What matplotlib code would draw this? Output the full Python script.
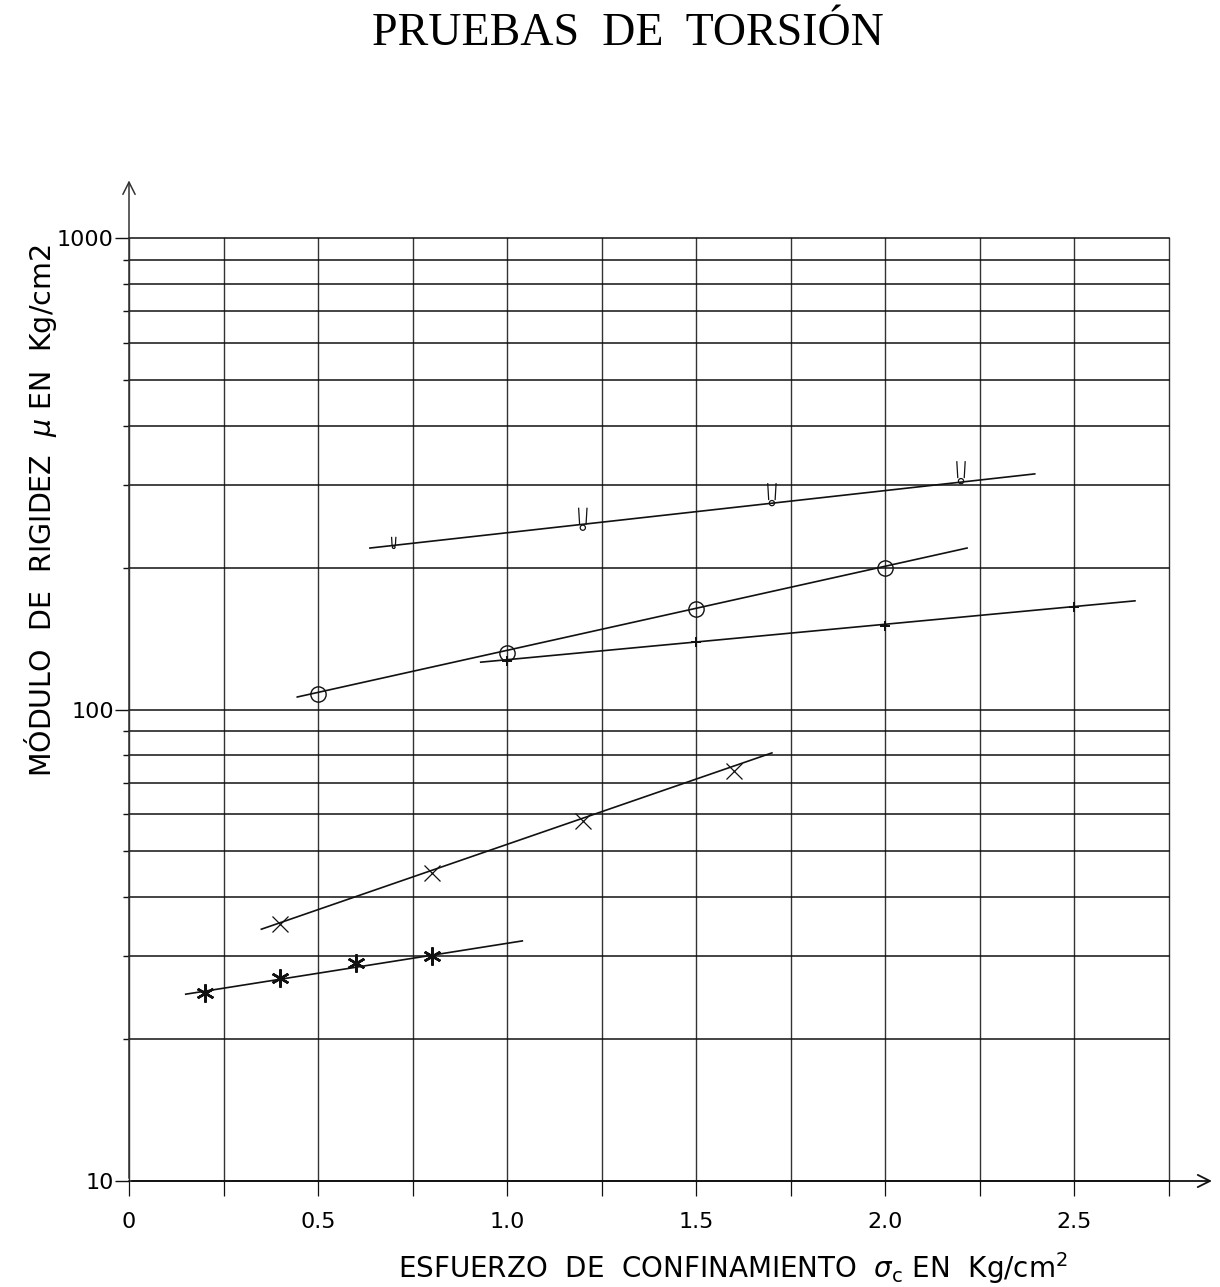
import numpy as np
import matplotlib
matplotlib.use("Agg")
import matplotlib.pyplot as plt
from matplotlib.path import Path
from matplotlib.ticker import MultipleLocator, LogLocator, NullFormatter

# confining stress (kg/cm2) vs shear modulus (kg/cm2)
star_x = [0.2, 0.4, 0.6, 0.8]
star_y = [25.0, 27.0, 29.0, 30.0]
star_fit_x = [0.15, 1.04]
star_fit_y = [24.9, 32.3]

cross_x = [0.4, 0.8, 1.2, 1.6]
cross_y = [35.0, 45.0, 58.0, 74.0]
cross_fit_x = [0.35, 1.70]
cross_fit_y = [34.2, 80.9]

circ_x = [0.5, 1.0, 1.5, 2.0]
circ_y = [108.0, 132.0, 163.0, 200.0]
circ_fit_x = [0.445, 2.216]
circ_fit_y = [106.3, 220.0]

plus_x = [1.0, 1.5, 2.0, 2.5]
plus_y = [127.0, 139.0, 150.0, 165.0]
plus_fit_x = [0.93, 2.66]
plus_fit_y = [126.0, 170.0]

fork_x = [0.7, 1.2, 1.7, 2.2]
fork_y = [221.0, 243.0, 274.0, 305.0]
fork_fit_x = [0.637, 2.395]
fork_fit_y = [220.0, 316.0]

x_ticks = [0, 0.5, 1.0, 1.5, 2.0, 2.5]
x_tick_labels = ["0", "0.5", "1.0", "1.5", "2.0", "2.5"]
y_ticks = [10, 100, 1000]
y_tick_labels = ["10", "100", "1000"]

sans = ["DejaVu Sans"]
ink = "#111111"

fig = plt.figure(figsize=(12.2, 12.87), dpi=100)
ax = fig.add_axes([129 / 1220, 106 / 1287, 1040 / 1220, 943 / 1287])
ax.set_yscale("log")
ax.set_xlim(0, 2.75)
ax.set_ylim(10, 1000)

for s in ax.spines.values():
    s.set_visible(False)

ax.xaxis.set_major_locator(MultipleLocator(0.25))
ax.xaxis.set_major_formatter(NullFormatter())
ax.yaxis.set_minor_locator(LogLocator(base=10, subs=np.arange(2, 10)))
ax.yaxis.set_minor_formatter(NullFormatter())
ax.set_yticks(y_ticks)
ax.set_yticklabels(y_tick_labels, family=sans, fontsize=16)

ax.tick_params(axis="x", which="both", direction="out", length=11, width=0.9, color=ink, labelbottom=False)
ax.tick_params(axis="y", which="major", direction="out", length=10, width=1.0, color=ink, pad=1)
ax.tick_params(axis="y", which="minor", direction="out", length=4.5, width=1.0, color=ink)

ax.grid(True, which="major", axis="x", color="#333333", lw=1.0, clip_on=False)
ax.grid(True, which="both", axis="y", color=ink, lw=1.1, clip_on=False)

for xv, lab in zip(x_ticks, x_tick_labels):
    ax.text(xv, -0.043, lab, transform=ax.get_xaxis_transform(), ha="center", va="center",
            family=sans, fontsize=16)

# axes drawn as arrows
ax.annotate("", xy=(0, 1.064), xytext=(0, 0), xycoords="axes fraction",
            arrowprops=dict(arrowstyle="->", lw=1.1, color="#333333", mutation_scale=22),
            annotation_clip=False)
ax.annotate("", xy=(1.044, 0), xytext=(0, 0), xycoords="axes fraction",
            arrowprops=dict(arrowstyle="->", lw=1.3, color=ink, mutation_scale=22),
            annotation_clip=False)

# fitted lines
for fx, fy in [(star_fit_x, star_fit_y), (cross_fit_x, cross_fit_y), (circ_fit_x, circ_fit_y),
               (plus_fit_x, plus_fit_y), (fork_fit_x, fork_fit_y)]:
    ax.plot(fx, fy, color=ink, lw=1.2, clip_on=False)

ax.plot(star_x, star_y, ls="none", marker=(6, 2, 0), ms=13, mew=1.8, color=ink)
ax.plot(cross_x, cross_y, ls="none", marker="x", ms=12, mew=0.9, color=ink)
ax.plot(circ_x, circ_y, ls="none", marker="o", ms=11, mew=1.0, mfc="none", mec=ink)
ax.plot(plus_x, plus_y, ls="none", marker="+", ms=7, mew=1.4, color=ink)

# small circle with two prongs above it
circle = Path.circle((0, 0), 0.26)
prongs = Path([(-0.32, 0.3), (-0.42, 2.0), (0.32, 0.3), (0.42, 2.0)],
              [Path.MOVETO, Path.LINETO, Path.MOVETO, Path.LINETO])
fork = Path.make_compound_path(circle, prongs)
ax.scatter(fork_x, fork_y, marker=fork, s=[220, 830, 830, 830], facecolors="none",
           edgecolors=ink, linewidths=0.9, zorder=3)

fig.text(0.515, 0.9735, "PRUEBAS  DE  TORSIÓN", ha="center", va="center",
         family=["Liberation Serif", "DejaVu Serif"], fontsize=33)
fig.text(0.033, 0.603, "MÓDULO  DE  RIGIDEZ  $\\mu$ EN  Kg/cm2", rotation=90,
         ha="center", va="center", family=sans, fontsize=20.5)
fig.text(0.601, 0.015, "ESFUERZO  DE  CONFINAMIENTO  $\\sigma_{\\rm c}$ EN  Kg/cm$^2$",
         ha="center", va="center", family=sans, fontsize=20)

fig.savefig("out.png", dpi=100)
